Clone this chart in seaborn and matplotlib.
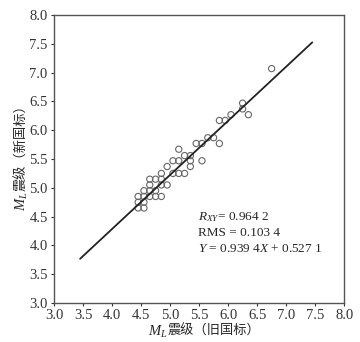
import matplotlib
matplotlib.use("Agg")
import matplotlib.pyplot as plt
import seaborn as sns
import numpy as np
import pandas as pd

# ML magnitude, old standard (x) vs new standard (y)
old_ml = [4.45, 4.55, 4.45, 4.55,
          4.45, 4.55, 4.65, 4.75, 4.85,
          4.55, 4.65, 4.75,
          4.65, 4.85, 4.95,
          4.65, 4.75, 4.85,
          4.85, 5.05, 5.15, 5.25,
          4.95, 5.35,
          5.05, 5.15, 5.35, 5.55,
          5.25, 5.35,
          5.15,
          5.45, 5.55, 5.85,
          5.65, 5.75,
          5.85, 5.95,
          6.05, 6.35,
          6.25, 6.25, 6.75]
new_ml = [4.65, 4.65, 4.75, 4.75,
          4.85, 4.85, 4.85, 4.85, 4.85,
          4.95, 4.95, 4.95,
          5.05, 5.05, 5.05,
          5.15, 5.15, 5.15,
          5.25, 5.25, 5.25, 5.25,
          5.37, 5.37,
          5.47, 5.47, 5.47, 5.47,
          5.56, 5.56,
          5.67,
          5.77, 5.77, 5.77,
          5.87, 5.87,
          6.17, 6.17,
          6.27, 6.27,
          6.37, 6.47, 7.07]

# fitted line Y = 0.9394 X + 0.5271
slope = 0.9394
intercept = 0.5271
fit_x = np.array([3.45, 7.45])
fit_y = slope * fit_x + intercept

ticks = [3.0, 3.5, 4.0, 4.5, 5.0, 5.5, 6.0, 6.5, 7.0, 7.5, 8.0]

df = pd.DataFrame({"old": old_ml, "new": new_ml})
fit = pd.DataFrame({"x": fit_x, "y": fit_y})

sns.set_style("ticks")
plt.rcParams["font.family"] = ["Liberation Serif", "Noto Sans CJK SC"]
plt.rcParams["mathtext.fontset"] = "custom"
plt.rcParams["mathtext.rm"] = "Liberation Serif"
plt.rcParams["mathtext.it"] = "Liberation Serif:italic"

fig = plt.figure(figsize=(3.6, 3.42), dpi=100)
ax = fig.add_axes([0.15, 0.114, 0.806, 0.842])

sns.lineplot(data=fit, x="x", y="y", ax=ax, color="#222222", linewidth=1.3)
sns.scatterplot(data=df, x="old", y="new", ax=ax, s=20, marker="o",
                facecolor="none", edgecolor="#666666", linewidth=0.8)

ax.set_xlim(3.0, 8.0)
ax.set_ylim(3.0, 8.0)
ax.set_xticks(ticks)
ax.set_yticks(ticks)
ax.set_xticklabels([f"{t:.1f}" for t in ticks], fontsize=10.5)
ax.set_yticklabels([f"{t:.1f}" for t in ticks], fontsize=10.5)
ax.tick_params(direction="out", length=2.5, width=0.8, colors="#333333", pad=2)
for s in ax.spines.values():
    s.set_visible(True)
    s.set_color("#555555")
    s.set_linewidth(1.0)

# CJK part of the labels as plain text, M_L in mathtext placed just before it
xl = ax.set_xlabel("震级（旧国标）", fontsize=9.5, labelpad=2,
                   family=["Noto Sans CJK SC"])
yl = ax.set_ylabel("震级（新国标）", fontsize=9.5, labelpad=1,
                   family=["Noto Sans CJK SC"])
xl.set_position((0.55, 0))
yl.set_position((0, 0.55))
ax.annotate("$M_L$", xy=(0, 0.45), xycoords=xl, ha="right", va="center",
            fontsize=10.5)
ax.annotate("$M_L$", xy=(0.55, 0), xycoords=yl, ha="center", va="top",
            rotation=90, fontsize=10.5)

ax.text(5.48, 4.5, "$R_{XY}$= 0.964 2", fontsize=9.5, va="center")
ax.text(5.48, 4.22, "RMS = 0.103 4", fontsize=9.5, va="center")
ax.text(5.48, 3.93, "$Y$ = 0.939 4$X$ + 0.527 1", fontsize=9.5, va="center")

fig.savefig("out.png", dpi=100)
